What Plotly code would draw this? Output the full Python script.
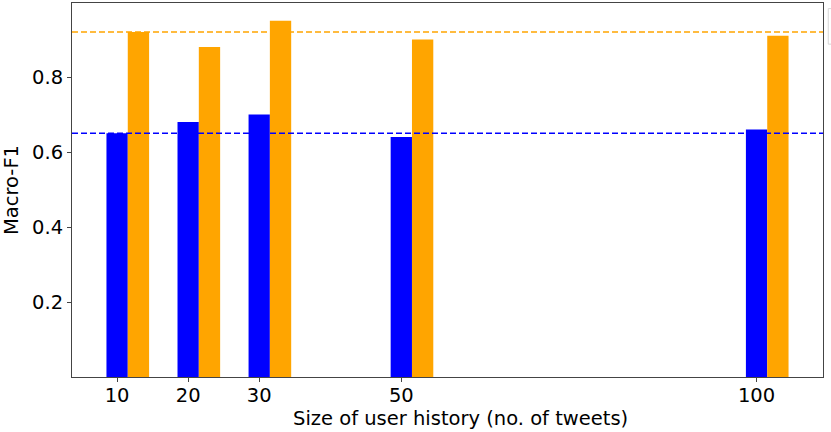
import plotly.graph_objects as go

sizes = [10, 20, 30, 50, 100]
blue_vals = [0.65, 0.68, 0.70, 0.64, 0.66]
orange_vals = [0.92, 0.88, 0.95, 0.90, 0.91]
blue_baseline = 0.65
orange_baseline = 0.92
x_ticks = [10, 20, 30, 50, 100]
y_ticks = [0.2, 0.4, 0.6, 0.8]
x_title = "Size of user history (no. of tweets)"
y_title = "Macro-F1"

BLUE = "#0000ff"
ORANGE = "#ffa500"
W = 3
FS = 19.5

fig = go.Figure()
fig.add_trace(go.Bar(x=sizes, y=blue_vals, width=W, offset=-W / 2,
                     marker=dict(color=BLUE, line=dict(width=0)), showlegend=False))
fig.add_trace(go.Bar(x=sizes, y=orange_vals, width=W, offset=W / 2,
                     marker=dict(color=ORANGE, line=dict(width=0)), showlegend=False))

for val, col in [(orange_baseline, ORANGE), (blue_baseline, BLUE)]:
    fig.add_shape(type="line", xref="paper", yref="y", x0=0, x1=1, y0=val, y1=val,
                  line=dict(color=col, width=1.5, dash="6px,3px"))

# partially visible legend frame at the right edge
fig.add_shape(type="rect", xref="paper", yref="paper", x0=1.007, x1=1.2, y0=0.89, y1=0.985,
              line=dict(color="#d5d5d5", width=1), fillcolor="white", layer="above")

# x-axis title (placed as in the reference)
fig.add_annotation(text=x_title, xref="paper", yref="paper", x=0.517, y=0,
                   xanchor="center", yanchor="top", yshift=-28, showarrow=False,
                   font=dict(size=FS, color="black"))

axis_common = dict(showgrid=False, zeroline=False, showline=True, linecolor="#444",
                   linewidth=1, mirror=True, ticks="outside", ticklen=4, tickwidth=1,
                   tickcolor="#444", tickfont=dict(size=FS, color="black"))

fig.update_layout(
    width=831, height=432,
    margin=dict(l=72, r=8, t=3, b=55),
    paper_bgcolor="white", plot_bgcolor="white",
    font=dict(family="DejaVu Sans", color="black", size=FS),
    barmode="overlay",
    xaxis=dict(range=[3.65, 109.35], tickvals=x_ticks, automargin=False,
               ticklabelstandoff=-3, **axis_common),
    yaxis=dict(range=[0, 0.9975], tickvals=y_ticks, tickformat=".1f", automargin=False,
               title=dict(text=y_title, font=dict(size=FS), standoff=19), **axis_common),
)

fig.write_html("out.html", config={"displayModeBar": False},
               post_script="document.body.style.margin='0';document.body.style.padding='0';")
